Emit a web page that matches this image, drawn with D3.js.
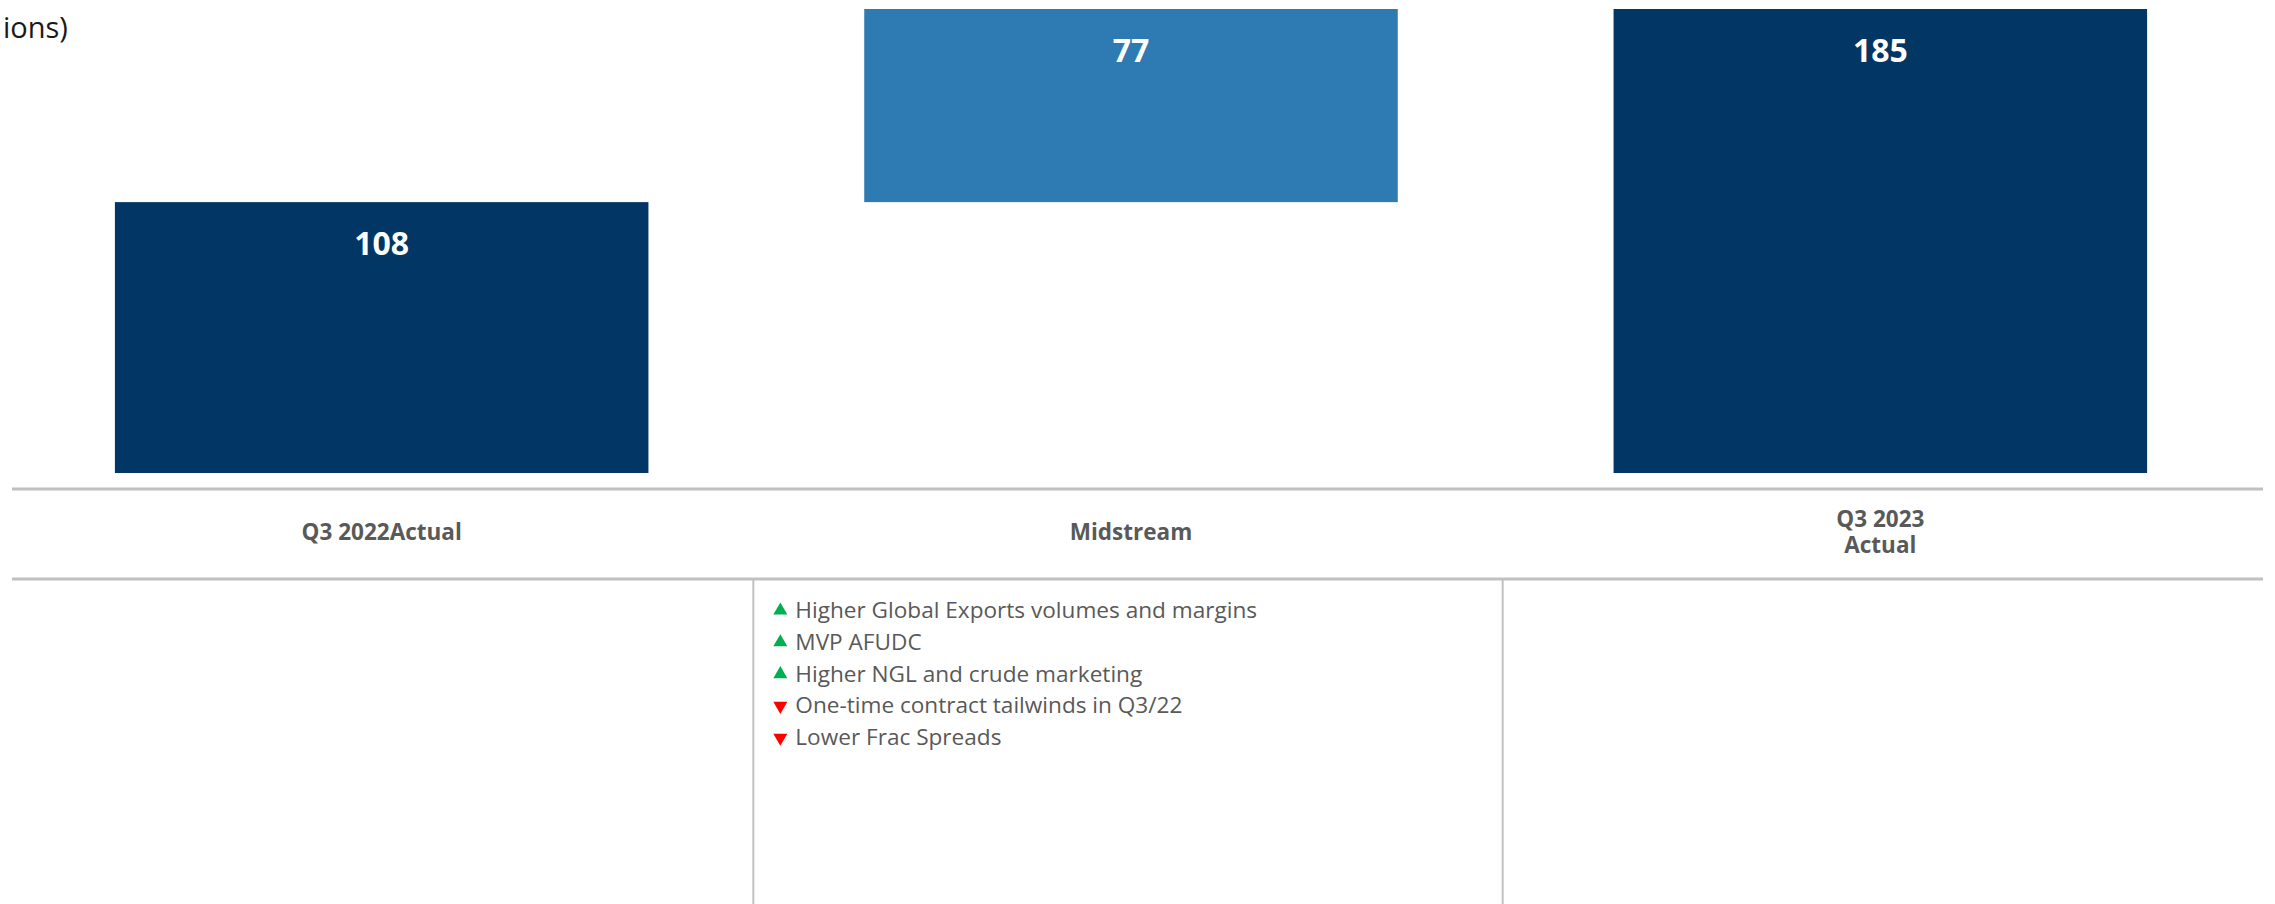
<!DOCTYPE html>
<html>
<head>
<meta charset="utf-8">
<script src="https://cdn.jsdelivr.net/npm/d3@7"></script>
<style>
  html, body { margin: 0; padding: 0; background: #fff; }
  svg { display: block; font-family: 'Open Sans', 'Noto Sans', sans-serif; }
</style>
</head>
<body>
<svg id="chart" width="2275" height="904"></svg>
<script>
var categories = ['Q3 2022Actual', 'Midstream', 'Q3 2023 Actual'];
var categoryLines = [['Q3 2022Actual'], ['Midstream'], ['Q3 2023', 'Actual']];
var values = [108, 77, 185];
var barKinds = ['total', 'delta', 'total'];

var driverTexts = [
  'Higher Global Exports volumes and margins',
  'MVP AFUDC',
  'Higher NGL and crude marketing',
  'One-time contract tailwinds in Q3/22',
  'Lower Frac Spreads'
];
var driverDirections = ['up', 'up', 'up', 'down', 'down'];
var driverColumn = 'Midstream';

var unitText = 'ions)';

var Waterfall = function(svg) {
  'use strict';
  this.svg = svg;
  this.width = 2275;
  this.height = 904;
  this.init();
};

Waterfall.prototype = {
  init: function() {
    var running = 0;
    this.bars = categories.map(function(c, i) {
      var start, end;
      if (barKinds[i] === 'total') {
        start = 0;
        end = values[i];
        running = values[i];
      } else {
        start = running;
        end = running + values[i];
        running = end;
      }
      return { name: c, value: values[i], start: start, end: end, kind: barKinds[i] };
    });

    this.x = d3.scaleBand()
      .domain(categories)
      .range([7, 2255])
      .paddingInner(0.288)
      .paddingOuter(0.144);

    this.y = d3.scaleLinear()
      .domain([0, d3.max(this.bars, function(d) { return d.end; })])
      .range([473, 9]);

    this.step = this.x.step();
  },

  // left edge of the column that holds a category
  colLeft: function(name) {
    return this.x(name) - this.step * 0.144;
  },

  render: function() {
    this.drawUnit();
    this.drawBars();
    this.drawValueLabels();
    this.drawTable();
    this.drawDrivers();
  },

  drawUnit: function() {
    this.svg.append('text')
      .attr('x', 3)
      .attr('y', 38)
      .attr('font-size', 29)
      .attr('fill', '#1a1a1a')
      .text(unitText);
  },

  drawBars: function() {
    var self = this;
    this.svg.append('g')
      .selectAll('rect')
      .data(this.bars)
      .join('rect')
      .attr('x', function(d) { return self.x(d.name); })
      .attr('width', this.x.bandwidth())
      .attr('y', function(d) { return self.y(d.end); })
      .attr('height', function(d) { return self.y(d.start) - self.y(d.end); })
      .attr('fill', function(d) { return d.kind === 'total' ? '#023664' : '#2e7bb4'; });
  },

  drawValueLabels: function() {
    var self = this;
    this.svg.append('g')
      .selectAll('text')
      .data(this.bars)
      .join('text')
      .attr('x', function(d) { return self.x(d.name) + self.x.bandwidth() / 2; })
      .attr('y', function(d) { return self.y(d.end) + 53; })
      .attr('text-anchor', 'middle')
      .attr('font-size', 32)
      .attr('font-weight', 700)
      .attr('fill', '#fff')
      .text(function(d) { return d.value; });
  },

  drawTable: function() {
    var self = this;
    var g = this.svg.append('g');

    [489, 579].forEach(function(yy) {
      g.append('line')
        .attr('x1', 12)
        .attr('x2', 2263)
        .attr('y1', yy)
        .attr('y2', yy)
        .attr('stroke', '#c0c0c0')
        .attr('stroke-width', 3);
    });

    categories.slice(1).forEach(function(c) {
      var xx = self.colLeft(c) - 3;
      g.append('line')
        .attr('x1', xx)
        .attr('x2', xx)
        .attr('y1', 580)
        .attr('y2', self.height)
        .attr('stroke', '#c0c0c0')
        .attr('stroke-width', 2);
    });

    var labels = g.selectAll('text.cat')
      .data(categories)
      .join('text')
      .attr('class', 'cat')
      .attr('x', function(d) { return self.x(d) + self.x.bandwidth() / 2; })
      .attr('text-anchor', 'middle')
      .attr('font-size', 22.5)
      .attr('font-weight', 700)
      .attr('fill', '#595959');

    labels.each(function(d, i) {
      var lines = categoryLines[i];
      var top = 540 - (lines.length - 1) * 13;
      d3.select(this).selectAll('tspan')
        .data(lines)
        .join('tspan')
        .attr('x', self.x(d) + self.x.bandwidth() / 2)
        .attr('y', function(l, j) { return top + j * 26; })
        .text(function(l) { return l; });
    });
  },

  drawDrivers: function() {
    var left = this.colLeft(driverColumn) - 3;
    var g = this.svg.append('g');
    var tri = d3.symbol().type(d3.symbolTriangle).size(85);

    driverTexts.forEach(function(t, i) {
      var base = 618 + i * 31.8;
      var isUp = driverDirections[i] === 'up';
      g.append('path')
        .attr('d', tri())
        .attr('transform', 'translate(' + (left + 27) + ',' + (base - 7.5) + ')' + (isUp ? '' : ' rotate(180)'))
        .attr('fill', isUp ? '#00b050' : '#ff0000');

      g.append('text')
        .attr('x', left + 42)
        .attr('y', base)
        .attr('font-size', 22.6)
        .attr('fill', '#595959')
        .text(t);
    });
  }
};

var chart = new Waterfall(d3.select('#chart'));
chart.render();
</script>
</body>
</html>
